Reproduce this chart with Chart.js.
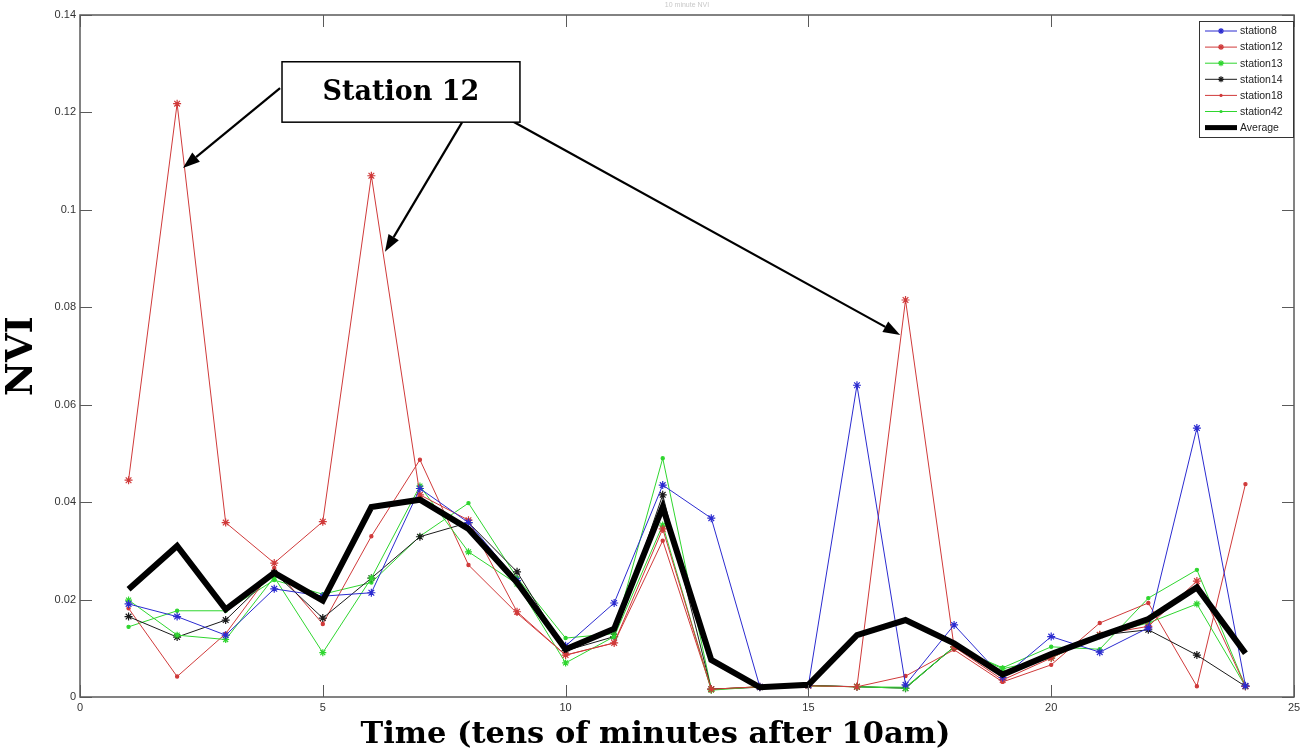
<!DOCTYPE html>
<html><head><meta charset="utf-8">
<script src="https://cdn.jsdelivr.net/npm/chart.js@4.4.1/dist/chart.umd.min.js"></script>
<style>html,body{margin:0;padding:0;background:#fff}#wrap{width:1312px;height:756px;position:relative}</style>
</head><body><div id="wrap"><canvas id="c" width="1312" height="756"></canvas></div>
<script>
const timeSteps = [1,2,3,4,5,6,7,8,9,10,11,12,13,14,15,16,17,18,19,20,21,22,23,24];
const station8  = [0.0191,0.0165,0.0127,0.0222,0.0207,0.0214,0.0428,0.0358,0.0239,0.0105,0.0193,0.0435,0.0367,0.0021,0.0024,0.0640,0.0025,0.0148,0.0040,0.0124,0.0092,0.0142,0.0552,0.0023];
const station12 = [0.0445,0.1218,0.0358,0.0275,0.0360,0.1070,0.0415,0.0363,0.0175,0.0086,0.0111,0.0345,0.0016,0.0021,0.0023,0.0021,0.0815,0.0103,0.0035,0.0080,0.0128,0.0145,0.0238,0.0022];
const station13 = [0.0199,0.0127,0.0118,0.0246,0.0091,0.0244,0.0433,0.0298,0.0232,0.0070,0.0124,0.0353,0.0014,0.0021,0.0023,0.0021,0.0018,0.0103,0.0058,0.0080,0.0127,0.0152,0.0191,0.0022];
const station14 = [0.0165,0.0123,0.0158,0.0255,0.0162,0.0244,0.0329,0.0358,0.0257,0.0095,0.0124,0.0415,0.0016,0.0020,0.0024,0.0021,0.0018,0.0103,0.0045,0.0085,0.0127,0.0138,0.0086,0.0022];
const station18 = [0.0182,0.0042,0.0130,0.0265,0.0150,0.0330,0.0487,0.0271,0.0172,0.0086,0.0111,0.0321,0.0016,0.0021,0.0023,0.0021,0.0043,0.0097,0.0031,0.0066,0.0152,0.0193,0.0022,0.0437];
const station42 = [0.0144,0.0177,0.0177,0.0240,0.0211,0.0235,0.0330,0.0398,0.0245,0.0121,0.0130,0.0490,0.0016,0.0021,0.0023,0.0021,0.0020,0.0103,0.0060,0.0103,0.0098,0.0203,0.0261,0.0022];
const average   = [0.0221,0.0310,0.0180,0.0255,0.0198,0.0390,0.0405,0.0345,0.0235,0.0098,0.0140,0.0390,0.0076,0.0020,0.0025,0.0127,0.0158,0.0110,0.0046,0.0088,0.0125,0.0160,0.0225,0.0090];
const xTicks = [0,5,10,15,20,25];
const yTicks = [0,0.02,0.04,0.06,0.08,0.1,0.12,0.14];
const chartTitle = '10 minute NVI';
const xTitle = 'Time (tens of minutes after 10am)';
const yTitle = 'NVI';
const annotationLabel = 'Station 12';
const annotationBox = {x0:4.16, x1:9.06, y0:0.1304, y1:0.1180};
const annotationArrows = [
  {from:[4.12,0.1250], to:[2.12,0.1086]},
  {from:[7.87,0.1180], to:[6.28,0.0914]},
  {from:[8.85,0.1185], to:[16.89,0.0743]}
];

const BLUE='#2b2bd0', RED='#d03a3a', GREEN='#2fd62f', BLACK='#1a1a1a';
const SERIF='"DejaVu Serif", "Liberation Serif", serif';
function pts(arr){ return arr.map((v,i)=>({x:timeSteps[i], y:v})); }
function ds(label, arr, color, style, radius, lw){
  return {label, data:pts(arr), borderColor:color, backgroundColor:color, borderWidth:lw,
    pointStyle:style, pointRadius:radius, pointBorderWidth:1.2, pointHoverRadius:radius, tension:0, fill:false};
}
const datasets = [
  ds('station8', station8, BLUE, 'star', 4, 1),
  ds('station12', station12, RED, 'star', 4, 1),
  ds('station13', station13, GREEN, 'star', 3.5, 1),
  ds('station14', station14, BLACK, 'star', 4, 1),
  ds('station18', station18, RED, 'circle', 1.6, 1),
  ds('station42', station42, GREEN, 'circle', 1.6, 1),
  Object.assign(ds('Average', average, '#000', false, 0, 6), {order:-1, borderJoinStyle:'miter'})
];

const framePlugin = {
  id:'frame',
  afterDraw(chart){
    const {ctx, chartArea:a, scales:{x,y}} = chart;
    ctx.save();
    ctx.fillStyle='#c8c8c8'; ctx.font='7px "Liberation Sans", Arial, sans-serif';
    ctx.textAlign='center'; ctx.textBaseline='middle';
    ctx.fillText(chartTitle, (a.left+a.right)/2, 5);
    // x axis title (offset left of centre as in the original figure)
    ctx.fillStyle='#000'; ctx.font='bold 30.5px '+SERIF;
    ctx.fillText(xTitle, x.getPixelForValue(11.85), 735);
    ctx.strokeStyle='#5a5a5a'; ctx.lineWidth=1.5;
    ctx.strokeRect(a.left, a.top, a.right-a.left, a.bottom-a.top);
    ctx.lineWidth=1;
    const tl=12;
    yTicks.forEach(v=>{ const p=Math.round(y.getPixelForValue(v))+0.5;
      ctx.beginPath(); ctx.moveTo(a.left,p); ctx.lineTo(a.left+tl,p); ctx.moveTo(a.right,p); ctx.lineTo(a.right-tl,p); ctx.stroke(); });
    xTicks.forEach(v=>{ const p=Math.round(x.getPixelForValue(v))+0.5;
      ctx.beginPath(); ctx.moveTo(p,a.bottom); ctx.lineTo(p,a.bottom-tl); ctx.moveTo(p,a.top); ctx.lineTo(p,a.top+tl); ctx.stroke(); });
    const lx0=1199, ly0=21, lw=94, lh=116;
    ctx.fillStyle='#fff'; ctx.fillRect(lx0,ly0,lw,lh);
    ctx.strokeStyle='#333'; ctx.lineWidth=1; ctx.strokeRect(lx0+0.5,ly0+0.5,lw,lh);
    ctx.font='10.5px "Liberation Sans", Arial, sans-serif'; ctx.textAlign='left'; ctx.textBaseline='middle';
    chart.data.datasets.forEach((d,i)=>{
      const yy = ly0+10+i*16.1;
      ctx.strokeStyle=d.borderColor; ctx.lineWidth=d.borderWidth>2?5:1;
      ctx.beginPath(); ctx.moveTo(lx0+6,yy); ctx.lineTo(lx0+38,yy); ctx.stroke();
      if(d.pointStyle==='star'){
        const cx=lx0+22, r=3; ctx.lineWidth=1.2;
        ctx.beginPath(); ctx.moveTo(cx-r,yy); ctx.lineTo(cx+r,yy); ctx.moveTo(cx,yy-r); ctx.lineTo(cx,yy+r);
        ctx.moveTo(cx-r*0.7,yy-r*0.7); ctx.lineTo(cx+r*0.7,yy+r*0.7); ctx.moveTo(cx-r*0.7,yy+r*0.7); ctx.lineTo(cx+r*0.7,yy-r*0.7); ctx.stroke();
      } else if(d.pointStyle==='circle'){
        ctx.fillStyle=d.borderColor; ctx.beginPath(); ctx.arc(lx0+22,yy,1.6,0,Math.PI*2); ctx.fill();
      }
      ctx.fillStyle='#222'; ctx.fillText(d.label, lx0+41, yy+0.5);
    });
    const bx0=x.getPixelForValue(annotationBox.x0), bx1=x.getPixelForValue(annotationBox.x1);
    const by0=y.getPixelForValue(annotationBox.y0), by1=y.getPixelForValue(annotationBox.y1);
    ctx.strokeStyle='#000'; ctx.fillStyle='#000'; ctx.lineWidth=2.2;
    annotationArrows.forEach(ar=>{
      const x1=x.getPixelForValue(ar.from[0]), y1=y.getPixelForValue(ar.from[1]);
      const x2=x.getPixelForValue(ar.to[0]), y2=y.getPixelForValue(ar.to[1]);
      const ang=Math.atan2(y2-y1,x2-x1), L=17, W=6;
      const bx=x2-L*Math.cos(ang), by=y2-L*Math.sin(ang);
      ctx.beginPath(); ctx.moveTo(x1,y1); ctx.lineTo(bx,by); ctx.stroke();
      ctx.beginPath(); ctx.moveTo(x2,y2);
      ctx.lineTo(bx+W*Math.sin(ang), by-W*Math.cos(ang));
      ctx.lineTo(bx-W*Math.sin(ang), by+W*Math.cos(ang)); ctx.closePath(); ctx.fill();
    });
    ctx.fillStyle='#fff'; ctx.fillRect(bx0,by0,bx1-bx0,by1-by0);
    ctx.strokeStyle='#000'; ctx.lineWidth=1.5; ctx.strokeRect(bx0,by0,bx1-bx0,by1-by0);
    ctx.fillStyle='#000'; ctx.font='bold 27px '+SERIF;
    ctx.textAlign='center'; ctx.textBaseline='middle';
    ctx.fillText(annotationLabel,(bx0+bx1)/2,(by0+by1)/2+1);
    ctx.restore();
  }
};

const tickFmt = v => String(+(+v).toFixed(4));
new Chart(document.getElementById('c'), {
  type:'line',
  data:{datasets},
  options:{
    responsive:false, animation:false, devicePixelRatio:1,
    layout:{padding:{top:15,right:18,left:0,bottom:0}},
    plugins:{legend:{display:false}, tooltip:{enabled:false}},
    scales:{
      x:{type:'linear', min:0, max:25,
        afterFit(s){ s.height=59; },
        afterBuildTicks(s){ s.ticks = xTicks.map(v=>({value:v})); },
        grid:{display:false, drawTicks:false}, border:{display:false},
        ticks:{padding:4, color:'#333', font:{family:'"Liberation Sans", Arial, sans-serif', size:11}, maxRotation:0, callback:tickFmt},
        title:{display:false, text:xTitle}
      },
      y:{type:'linear', min:0, max:0.14,
        afterFit(s){ s.width=80; },
        afterBuildTicks(s){ s.ticks = yTicks.map(v=>({value:v})); },
        grid:{display:false, drawTicks:false}, border:{display:false},
        ticks:{padding:4, color:'#333', font:{family:'"Liberation Sans", Arial, sans-serif', size:11}, callback:tickFmt},
        title:{display:true, text:yTitle, color:'#000', padding:{top:0,bottom:0},
          font:{family:SERIF, size:37, weight:'bold'}}
      }
    }
  },
  plugins:[framePlugin]
});
</script></body></html>
